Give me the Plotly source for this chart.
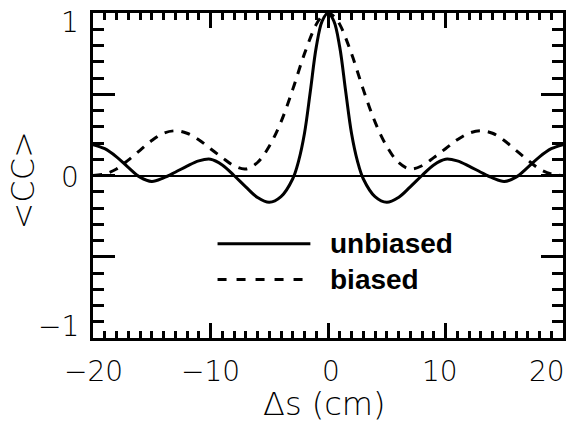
import plotly.graph_objects as go

# ---- data ----
ds_unbiased = [-20, -19, -18, -17, -16, -15, -14, -13, -12, -11, -10, -9, -8, -7, -6, -5, -4, -3,
               -2.5, -2, -1.5, -1, -0.5, 0, 0.5, 1, 1.5, 2, 2.5,
               3, 4, 5, 6, 7, 8, 9, 10, 11, 12, 13, 14, 15, 16, 17, 18, 19, 20]
cc_unbiased = [0.19, 0.165, 0.115, 0.05, -0.01, -0.037, -0.015, 0.02, 0.058, 0.09, 0.10, 0.065, 0.0, -0.07, -0.135, -0.165, -0.13, -0.02,
               0.09, 0.26, 0.52, 0.79, 0.95, 1.0, 0.95, 0.79, 0.52, 0.26, 0.09,
               -0.02, -0.13, -0.165, -0.135, -0.07, 0.0, 0.065, 0.10, 0.09, 0.058, 0.02, -0.015, -0.037, -0.01, 0.05, 0.115, 0.165, 0.19]

ds_biased = [-20, -19, -18, -17, -16, -15, -14, -13, -12, -11, -10, -9, -8, -7, -6, -5, -4, -3, -2, -1,
             -0.5, 0, 0.5,
             1, 2, 3, 4, 5, 6, 7, 8, 9, 10, 11, 12, 13, 14, 15, 16, 17, 18, 19, 20]
cc_biased = [0.0, 0.01, 0.04, 0.095, 0.155, 0.215, 0.26, 0.275, 0.26, 0.22, 0.165, 0.11, 0.06, 0.04, 0.08, 0.18, 0.33, 0.53, 0.75, 0.93,
             0.98, 1.0, 0.98,
             0.93, 0.75, 0.53, 0.33, 0.18, 0.08, 0.04, 0.06, 0.11, 0.165, 0.22, 0.26, 0.275, 0.26, 0.215, 0.155, 0.095, 0.04, 0.01, 0.0]

legend_names = ["unbiased", "biased"]
y_tick_vals = [-1, 0, 1]
y_tick_text = ["\u22121", "0", "1"]
x_tick_vals = [-20, -10, 0, 10, 20]
x_tick_text = ["\u221220", "\u221210", "0", "10", "20"]
x_title = "\u0394s (cm)"
y_title = "<CC>"

FONT = "DejaVu Sans"
TICKFONT = dict(family=FONT, size=28, color="black", weight=200)
TITLEFONT = dict(family=FONT, size=32, color="black", weight=200)

fig = go.Figure()
fig.add_trace(go.Scatter(x=ds_unbiased, y=cc_unbiased, mode="lines", line_shape="spline",
                         line=dict(color="black", width=3), showlegend=False))
fig.add_trace(go.Scatter(x=ds_biased, y=cc_biased, mode="lines", line_shape="spline",
                         line=dict(color="black", width=3, dash="9px,8px"), showlegend=False))

# manual legend
leg_x0, leg_x1 = -9.4, -1.5
leg_y = [-0.42, -0.64]
dashes = ["solid", "9px,10px"]
for name, yy, dsh in zip(legend_names, leg_y, dashes):
    fig.add_shape(type="line", xref="x", yref="y", x0=leg_x0, x1=leg_x1, y0=yy, y1=yy,
                  line=dict(color="black", width=3, dash=dsh))
    fig.add_annotation(xref="x", yref="y", x=0.0, y=yy, text="<b>%s</b>" % name, showarrow=False,
                       xanchor="left", yanchor="middle",
                       font=dict(family="Liberation Sans", size=28, color="black"))

# y tick labels (shifted inward at ends as in reference)
yshifts = [12, -2, -9]
for v, t, s in zip(y_tick_vals, y_tick_text, yshifts):
    fig.add_annotation(xref="paper", yref="y", x=0, y=v, text=t, showarrow=False,
                       xanchor="right", yanchor="middle", xshift=-12, yshift=s, font=TICKFONT)

# x tick labels
xshifts = [0, 0, 3, -6, -16]
for v, t, s in zip(x_tick_vals, x_tick_text, xshifts):
    fig.add_annotation(xref="x", yref="paper", x=v, y=0, text=t, showarrow=False,
                       xanchor="center", yanchor="middle", xshift=s, yshift=-33, font=TICKFONT)

fig.add_annotation(xref="paper", yref="paper", x=0, y=0.5, text=y_title, textangle=-90,
                   showarrow=False, xanchor="center", yanchor="middle", xshift=-71, yshift=-5,
                   font=TITLEFONT)
fig.add_annotation(xref="paper", yref="paper", x=0.5, y=0, text=x_title,
                   showarrow=False, xanchor="center", yanchor="middle", yshift=-66, xshift=-4,
                   font=TITLEFONT)

fig.update_layout(
    width=576, height=426,
    margin=dict(l=93, r=10, t=10, b=88),
    paper_bgcolor="white", plot_bgcolor="white",
    showlegend=False,
)
fig.update_xaxes(range=[-20, 20], showgrid=False, zeroline=False,
                 showline=True, linecolor="black", linewidth=3, mirror="allticks",
                 ticks="inside", tickmode="array", tickvals=x_tick_vals,
                 ticklen=15, tickwidth=3, tickcolor="black", showticklabels=False,
                 minor=dict(ticks="inside", dtick=1, ticklen=7, tickwidth=3, tickcolor="black", showgrid=False))
fig.update_yaxes(range=[-1, 1], showgrid=False, zeroline=True, zerolinecolor="black", zerolinewidth=2,
                 showline=True, linecolor="black", linewidth=3, mirror="allticks",
                 ticks="inside", tickmode="array", tickvals=[-1, -0.5, 0, 0.5, 1],
                 ticklen=22, tickwidth=3, tickcolor="black", showticklabels=False,
                 minor=dict(ticks="inside", dtick=0.1, ticklen=11, tickwidth=3, tickcolor="black", showgrid=False))

fig.write_html("out.html")
